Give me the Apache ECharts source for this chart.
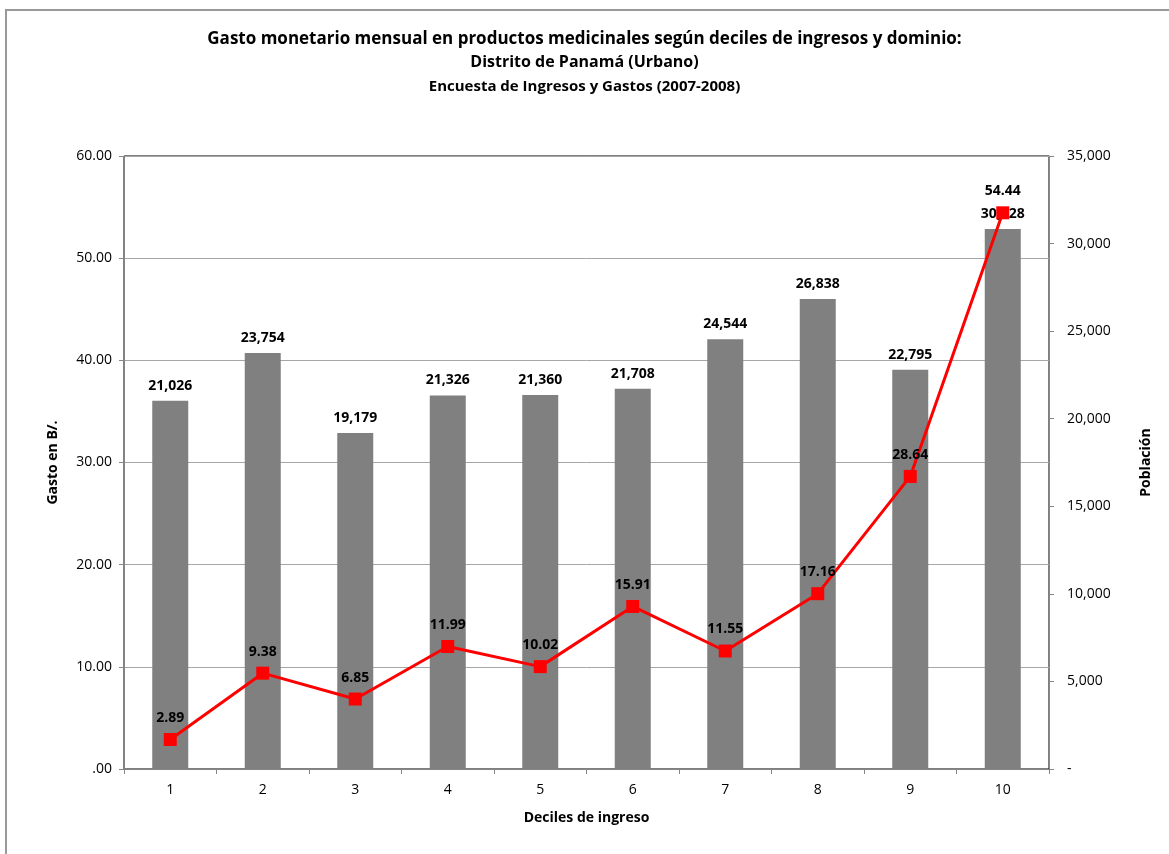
<!DOCTYPE html>
<html>
<head>
<meta charset="utf-8">
<script src="https://cdn.jsdelivr.net/npm/echarts@6/dist/echarts.min.js"></script>
<style>
  html, body { margin: 0; padding: 0; background: #fff; }
  #chart { width: 1169px; height: 854px; }
</style>
</head>
<body>
<div id="chart"></div>
<script>
// datos del gráfico
var deciles = ['1', '2', '3', '4', '5', '6', '7', '8', '9', '10'];
var poblacion = [21026, 23754, 19179, 21326, 21360, 21708, 24544, 26838, 22795, 30828];
var gasto = [2.89, 9.38, 6.85, 11.99, 10.02, 15.91, 11.55, 17.16, 28.64, 54.44];

var FONT = '"Open Sans", "Noto Sans", sans-serif';

function miles(v) {
    return String(Math.round(v)).replace(/\B(?=(\d{3})+(?!\d))/g, ',');
}

var chart = echarts.init(document.getElementById('chart'));
var option = {
    backgroundColor: '#fff',
    animation: false,
    textStyle: { fontFamily: FONT, color: '#000' },
    title: [
        {
            text: 'Gasto monetario mensual en productos medicinales según deciles de ingresos y dominio:',
            left: 'center', top: 26,
            textStyle: { fontFamily: FONT, fontSize: 17, fontWeight: 'bold', color: '#000' }
        },
        {
            text: 'Distrito de Panamá (Urbano)',
            left: 'center', top: 49,
            textStyle: { fontFamily: FONT, fontSize: 16, fontWeight: 'bold', color: '#000' }
        },
        {
            text: 'Encuesta de Ingresos y Gastos (2007-2008)',
            left: 'center', top: 74,
            textStyle: { fontFamily: FONT, fontSize: 15, fontWeight: 'bold', color: '#000' }
        }
    ],
    graphic: [{
        type: 'rect',
        shape: { x: 6, y: 10, width: 1200, height: 900 },
        style: { fill: 'none', stroke: '#999', lineWidth: 2 },
        silent: true
    }],
    grid: {
        left: 124, right: 120, top: 156, bottom: 85,
        show: true, borderColor: '#000', borderWidth: 1
    },
    xAxis: {
        type: 'category',
        data: deciles,
        name: 'Deciles de ingreso',
        nameLocation: 'middle',
        nameGap: 42,
        nameTextStyle: { fontSize: 14, fontWeight: 'bold', color: '#000' },
        axisLine: { lineStyle: { color: '#868686', width: 1 } },
        axisTick: { show: true, length: 5, lineStyle: { color: '#868686' } },
        axisLabel: { fontSize: 14, color: '#000', margin: 14 }
    },
    yAxis: [
        {
            type: 'value',
            min: 0, max: 60, interval: 10,
            name: 'Gasto en B/.',
            nameLocation: 'middle',
            nameRotate: 90,
            nameGap: 64,
            nameTextStyle: { fontSize: 14, fontWeight: 'bold', color: '#000' },
            axisLine: { show: true, lineStyle: { color: '#868686' } },
            axisTick: { show: true, length: 5, lineStyle: { color: '#868686' } },
            axisLabel: {
                fontSize: 14, color: '#000', margin: 12,
                formatter: function (v) { return v === 0 ? '.00' : v.toFixed(2); }
            },
            splitLine: { show: true, lineStyle: { color: '#a6a6a6', width: 1 } }
        },
        {
            type: 'value',
            min: 0, max: 35000, interval: 5000,
            position: 'right',
            name: 'Población',
            nameLocation: 'middle',
            nameRotate: 90,
            nameGap: 90,
            nameTextStyle: { fontSize: 14, fontWeight: 'bold', color: '#000' },
            axisLine: { show: true, lineStyle: { color: '#868686' } },
            axisTick: { show: true, length: 5, lineStyle: { color: '#868686' } },
            axisLabel: {
                fontSize: 14, color: '#000', margin: 18,
                formatter: function (v) { return v === 0 ? '-' : miles(v); }
            },
            splitLine: { show: false }
        }
    ],
    series: [
        {
            name: 'Población',
            type: 'bar',
            yAxisIndex: 1,
            data: poblacion,
            barWidth: 36,
            itemStyle: { color: '#808080' },
            label: {
                show: true, position: 'top', distance: 8,
                fontSize: 14, fontWeight: 'bold', color: '#000',
                formatter: function (p) { return miles(p.value); }
            }
        },
        {
            name: 'Gasto',
            type: 'line',
            yAxisIndex: 0,
            data: gasto,
            symbol: 'rect',
            symbolSize: 13,
            lineStyle: { color: '#ff0000', width: 3 },
            itemStyle: { color: '#ff0000' },
            label: {
                show: true, position: 'top', distance: 8,
                fontSize: 14, fontWeight: 'bold', color: '#000',
                formatter: function (p) { return p.value.toFixed(2); }
            },
            z: 3
        }
    ]
};
chart.setOption(option);
</script>
</body>
</html>
